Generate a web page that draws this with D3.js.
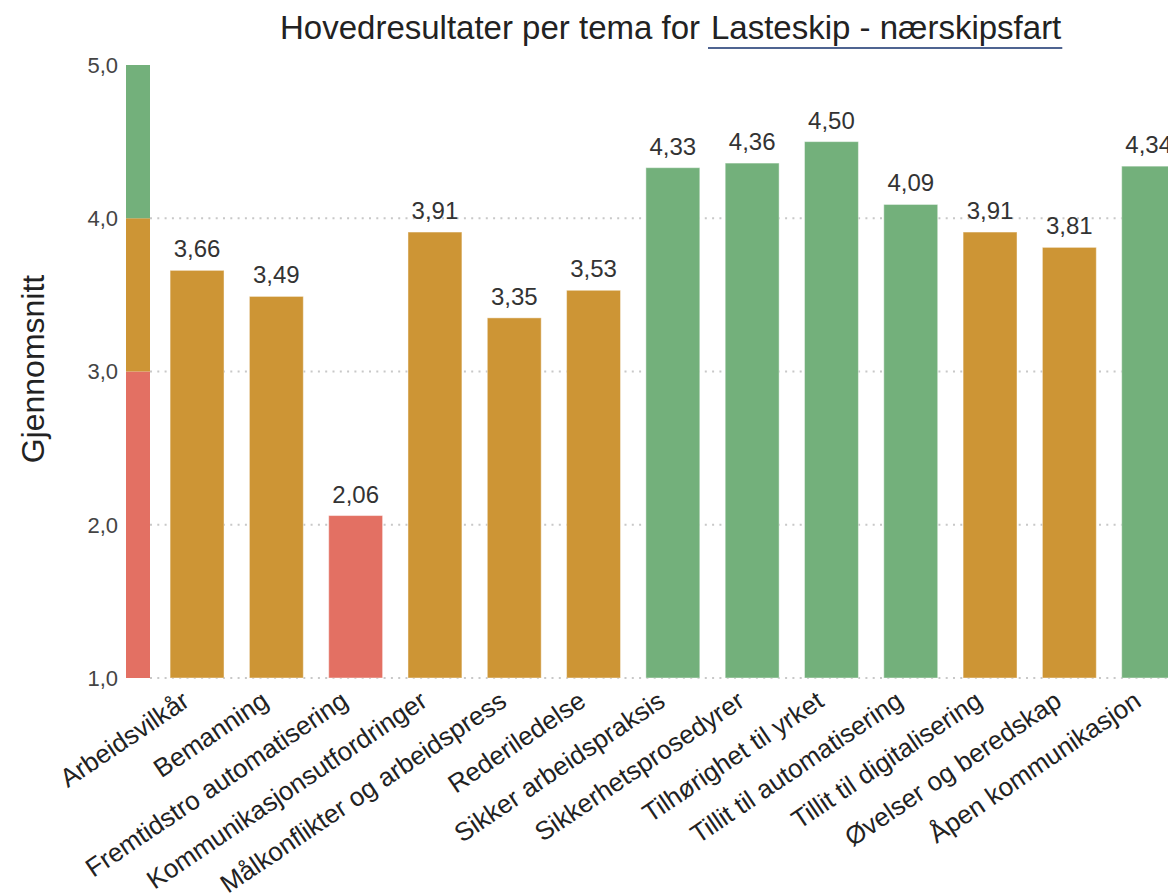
<!DOCTYPE html>
<html>
<head>
<meta charset="utf-8">
<script src="https://cdn.jsdelivr.net/npm/d3@7"></script>
<style>
  html, body { margin: 0; padding: 0; background: #fff; }
  svg { display: block; font-family: "Liberation Sans", Arial, sans-serif; }
</style>
</head>
<body>
<svg id="chart" width="1168" height="893"></svg>
<script>
// Themes and their mean scores (1–5)
const themes = [
  "Arbeidsvilkår",
  "Bemanning",
  "Fremtidstro automatisering",
  "Kommunikasjonsutfordringer",
  "Målkonflikter og arbeidspress",
  "Rederiledelse",
  "Sikker arbeidspraksis",
  "Sikkerhetsprosedyrer",
  "Tilhørighet til yrket",
  "Tillit til automatisering",
  "Tillit til digitalisering",
  "Øvelser og beredskap",
  "Åpen kommunikasjon"
];
const scores = [3.66, 3.49, 2.06, 3.91, 3.35, 3.53, 4.33, 4.36, 4.50, 4.09, 3.91, 3.81, 4.34];

const yTicks = [1, 2, 3, 4, 5];
const gridTicks = [1, 2, 3, 4];

// Score bands used for bar colouring and the reference strip
const bandLimits = [1, 3, 4, 5];
const bandColors = ["#e37063", "#cd9535", "#73b07b"];

const titleText = "Hovedresultater per tema for";
const groupText = "Lasteskip - nærskipsfart";
const yLabel = "Gjennomsnitt";

const fmt = v => d3.format(".2f")(v).replace(".", ",");
const fmtTick = v => d3.format(".1f")(v).replace(".", ",");

const svg = d3.select("#chart");
const W = 1168;

const y = d3.scaleLinear().domain([1, 5]).range([678, 65]);
const x = d3.scaleBand()
  .domain(themes)
  .range([157.4, 157.4 + 79.3 * themes.length])
  .paddingInner(0.32)
  .paddingOuter(0.16);

const colorFor = d3.scaleThreshold()
  .domain([3, 4])
  .range(bandColors);

// Dotted gridlines
svg.append("g")
  .selectAll("line")
  .data(gridTicks)
  .join("line")
  .attr("x1", 150).attr("x2", W)
  .attr("y1", d => y(d)).attr("y2", d => y(d))
  .attr("stroke", "#c8c8c8")
  .attr("stroke-width", 2)
  .attr("stroke-dasharray", "2,5.3");

// Reference colour strip beside the axis
const strip = d3.range(bandColors.length).map(i => ({ lo: bandLimits[i], hi: bandLimits[i + 1], c: bandColors[i] }));
svg.append("g")
  .selectAll("rect")
  .data(strip)
  .join("rect")
  .attr("x", 126).attr("width", 24)
  .attr("y", d => y(d.hi))
  .attr("height", d => y(d.lo) - y(d.hi))
  .attr("fill", d => d.c);

// Y tick labels
svg.append("g")
  .selectAll("text")
  .data(yTicks)
  .join("text")
  .attr("x", 118)
  .attr("y", d => y(d))
  .attr("dy", "0.36em")
  .attr("text-anchor", "end")
  .attr("font-size", 22)
  .attr("fill", "#444")
  .text(fmtTick);

// Bars
const data = themes.map((t, i) => ({ t, v: scores[i] }));
svg.append("g")
  .selectAll("rect")
  .data(data)
  .join("rect")
  .attr("x", d => x(d.t))
  .attr("width", x.bandwidth())
  .attr("y", d => y(d.v))
  .attr("height", d => y(1) - y(d.v))
  .attr("fill", d => colorFor(d.v))
  .attr("stroke", "rgba(255,255,255,0.45)")
  .attr("stroke-width", 1);

// Value labels
svg.append("g")
  .selectAll("text")
  .data(data)
  .join("text")
  .attr("x", d => x(d.t) + x.bandwidth() / 2)
  .attr("y", d => y(d.v) - 13)
  .attr("text-anchor", "middle")
  .attr("font-size", 24)
  .attr("fill", "#333")
  .text(d => fmt(d.v));

// Category labels, rotated
svg.append("g")
  .selectAll("text")
  .data(themes)
  .join("text")
  .attr("transform", d => `translate(${x(d) + x.bandwidth() / 2 - 6},705) rotate(-34)`)
  .attr("text-anchor", "end")
  .attr("font-size", 26)
  .attr("fill", "#222")
  .text(d => d);

// Y axis title
svg.append("text")
  .attr("transform", "translate(44,369) rotate(-90)")
  .attr("text-anchor", "middle")
  .attr("font-size", 32)
  .attr("fill", "#222")
  .text(yLabel);

// Chart title with underlined group name
svg.append("text")
  .attr("x", 280).attr("y", 39)
  .attr("font-size", 33)
  .attr("fill", "#222")
  .text(titleText);
const grp = svg.append("text")
  .attr("x", 711).attr("y", 39)
  .attr("font-size", 33)
  .attr("fill", "#222")
  .text(groupText);
const gw = grp.node().getComputedTextLength();
svg.append("line")
  .attr("x1", 708).attr("x2", 711 + gw + 1)
  .attr("y1", 48).attr("y2", 48)
  .attr("stroke", "#4f6491")
  .attr("stroke-width", 2);
</script>
</body>
</html>
